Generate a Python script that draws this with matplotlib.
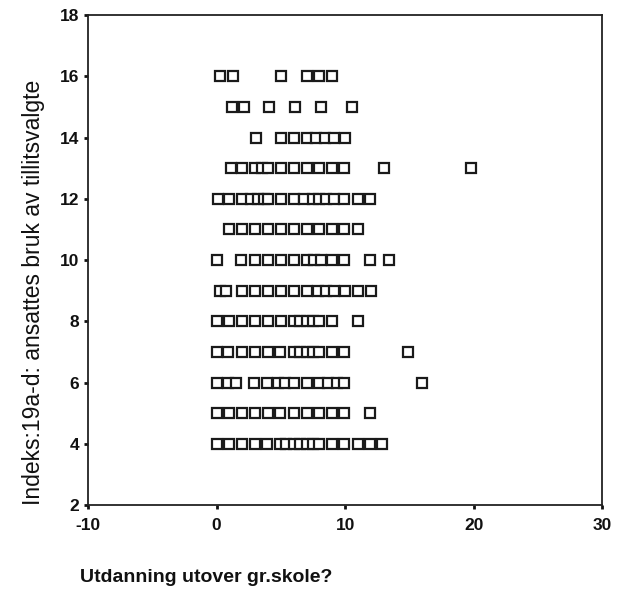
#importing libraries
import matplotlib
matplotlib.use("Agg")
import matplotlib.pyplot as plt

plt.rcParams['font.family'] = ['Liberation Sans', 'DejaVu Sans']
plt.rcParams['axes.unicode_minus'] = False

#data, one list of x values per index level
y_levels = [16, 15, 14, 13, 12, 11, 10, 9, 8, 7, 6, 5, 4]
x_rows = [
    [0.3, 1.3, 5, 7, 8, 9],
    [1.2, 2.1, 4.1, 6.1, 8.1, 10.5],
    [3.1, 5, 6, 7, 7.7, 8.4, 9.1, 10],
    [1.1, 2, 3, 3.5, 4, 5, 6, 7, 8, 9, 9.9, 13, 19.8],
    [0.1, 1, 2, 2.7, 3.2, 3.7, 4, 5, 6, 6.8, 7.5, 8, 8.5, 9.1, 9.9, 11, 11.9],
    [1, 2, 3, 4, 5, 6, 7, 8, 9, 9.9, 11],
    [0, 1.9, 3, 4, 5, 6, 7, 7.6, 8.1, 9, 9.9, 11.9, 13.4],
    [0.25, 0.75, 2, 3, 4, 5, 6, 7, 7.9, 8.5, 9.1, 10, 11, 12],
    [0, 1, 2, 3, 4, 5, 6, 6.5, 7, 7.5, 8, 9, 11],
    [0, 0.9, 2, 3, 4, 4.9, 6, 6.5, 7, 7.5, 8, 9, 9.9, 14.9],
    [0, 0.9, 1.5, 2.9, 3.9, 4.8, 5.3, 6, 7, 8, 8.7, 9.4, 9.9, 16],
    [0, 1, 2, 3, 4, 4.9, 6, 7, 8, 9, 9.9, 11.9],
    [0, 1, 2, 3, 3.9, 4.9, 5.4, 6, 6.5, 7, 7.5, 8, 9, 9.9, 11, 11.9, 12.9],
]
x_ticks = [-10, 0, 10, 20, 30]
y_ticks = [2, 4, 6, 8, 10, 12, 14, 16, 18]

xs = []
ys = []
for yv, row in zip(y_levels, x_rows):
    xs += row
    ys += [yv] * len(row)

#plotting
fig = plt.figure(figsize=(6.28, 6.00), dpi=100)
ax = fig.add_axes([0.140, 0.158, 0.819, 0.817])
ax.plot(xs, ys, linestyle='none', marker='s', markersize=6.5,
        markerfacecolor='white', markeredgecolor='#1a1a1a', markeredgewidth=1.6)

ax.set_xlim(-10, 30)
ax.set_ylim(2, 18)
ax.set_xticks(x_ticks)
ax.set_yticks(y_ticks)
ax.tick_params(direction='out', length=3, width=2, labelsize=12.5, colors='#111111')
ax.tick_params(axis='x', pad=6)
for lab in ax.get_xticklabels() + ax.get_yticklabels():
    lab.set_fontweight('bold')
for s in ax.spines.values():
    s.set_linewidth(1.3)
    s.set_color('#222222')

ax.set_ylabel("Indeks:19a-d: ansattes bruk av tillitsvalgte", fontsize=16.5, color='#111111')
ax.yaxis.set_label_coords(-0.084, 0.434)
fig.text(0.128, 0.037, "Utdanning utover gr.skole?", fontsize=14, fontweight='bold',
         color='#111111', ha='left', va='center')

plt.savefig("out.png", dpi=100)
